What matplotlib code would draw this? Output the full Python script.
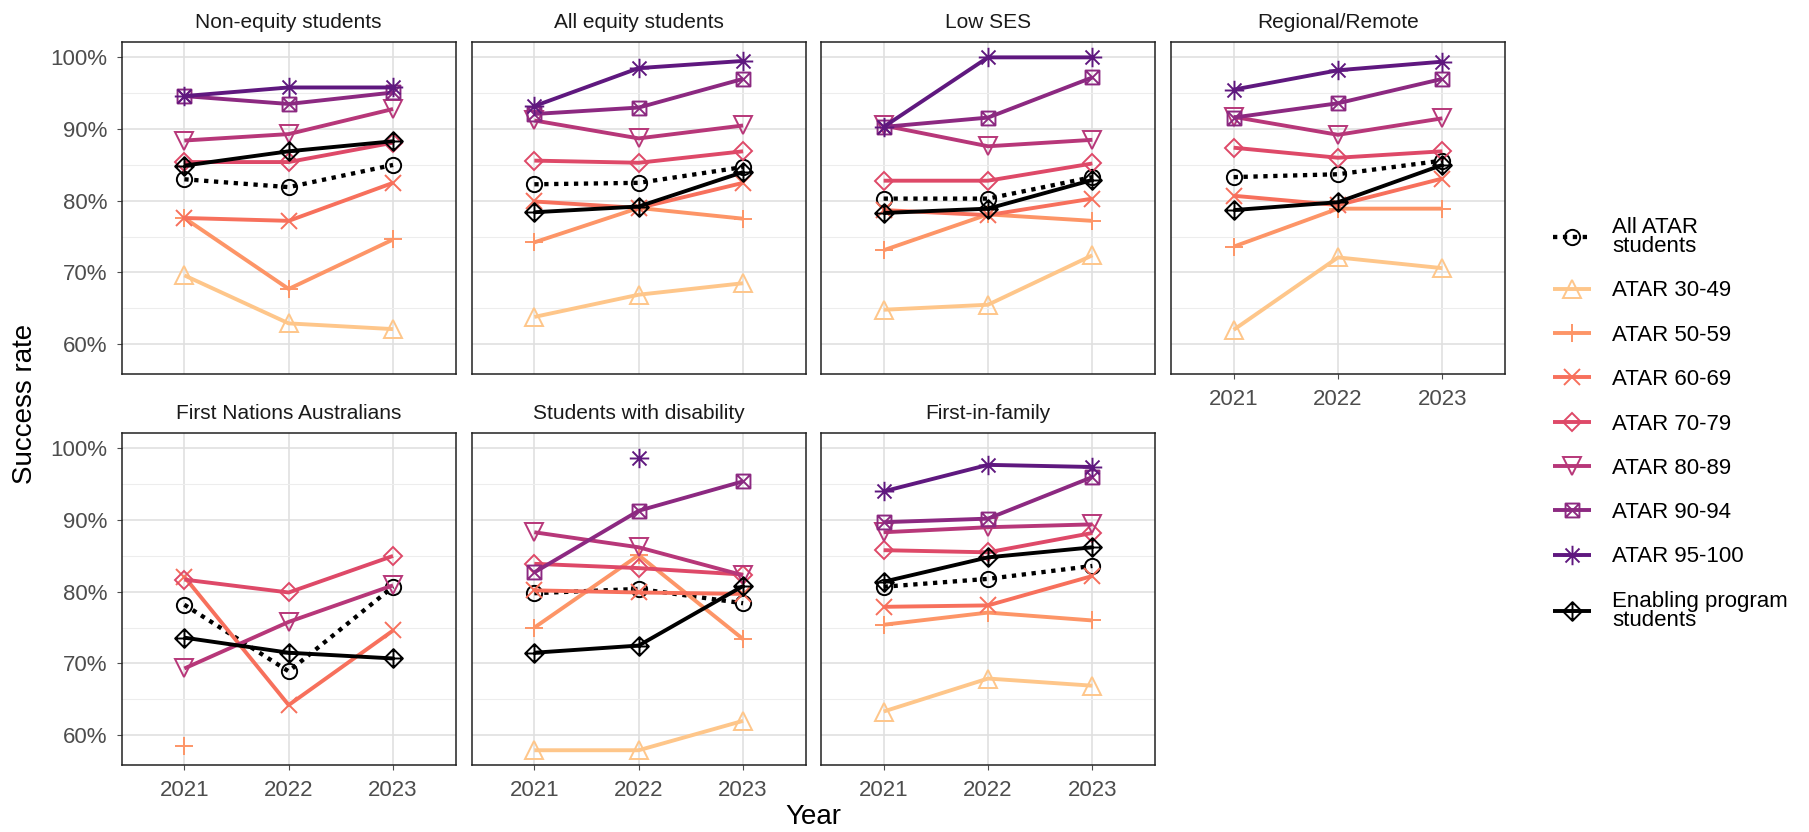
import matplotlib
matplotlib.use("Agg")
import matplotlib.pyplot as plt
from matplotlib.path import Path
from matplotlib.ticker import FuncFormatter, MultipleLocator, FixedLocator
import numpy as np

nan = np.nan

# ---------------- data ----------------
years = [2021, 2022, 2023]

series_names = ["All ATAR students", "ATAR 30-49", "ATAR 50-59", "ATAR 60-69",
                "ATAR 70-79", "ATAR 80-89", "ATAR 90-94", "ATAR 95-100",
                "Enabling program students"]

legend_labels = ["All ATAR\nstudents", "ATAR 30-49", "ATAR 50-59", "ATAR 60-69",
                 "ATAR 70-79", "ATAR 80-89", "ATAR 90-94", "ATAR 95-100",
                 "Enabling program\nstudents"]

panel_titles = ["Non-equity students", "All equity students", "Low SES",
                "Regional/Remote", "First Nations Australians",
                "Students with disability", "First-in-family"]

non_equity = {
    "All ATAR students": [83.0, 81.9, 85.0],
    "ATAR 30-49": [69.6, 62.9, 62.1],
    "ATAR 50-59": [77.6, 67.7, 74.6],
    "ATAR 60-69": [77.6, 77.2, 82.5],
    "ATAR 70-79": [85.4, 85.4, 88.1],
    "ATAR 80-89": [88.4, 89.3, 92.8],
    "ATAR 90-94": [94.6, 93.5, 95.1],
    "ATAR 95-100": [94.6, 95.8, 95.8],
    "Enabling program students": [84.9, 86.9, 88.3],
}
all_equity = {
    "All ATAR students": [82.3, 82.5, 84.7],
    "ATAR 30-49": [63.8, 66.9, 68.5],
    "ATAR 50-59": [74.2, 79.0, 77.5],
    "ATAR 60-69": [79.9, 79.0, 82.5],
    "ATAR 70-79": [85.6, 85.3, 86.9],
    "ATAR 80-89": [91.2, 88.7, 90.5],
    "ATAR 90-94": [92.1, 93.0, 97.0],
    "ATAR 95-100": [93.2, 98.5, 99.5],
    "Enabling program students": [78.4, 79.2, 84.0],
}
low_ses = {
    "All ATAR students": [80.3, 80.3, 83.3],
    "ATAR 30-49": [64.8, 65.5, 72.4],
    "ATAR 50-59": [73.1, 78.1, 77.2],
    "ATAR 60-69": [78.7, 78.0, 80.3],
    "ATAR 70-79": [82.8, 82.8, 85.2],
    "ATAR 80-89": [90.5, 87.6, 88.5],
    "ATAR 90-94": [90.3, 91.6, 97.2],
    "ATAR 95-100": [90.3, 100.0, 100.0],
    "Enabling program students": [78.3, 78.9, 82.9],
}
regional_remote = {
    "All ATAR students": [83.3, 83.7, 85.6],
    "ATAR 30-49": [62.0, 72.1, 70.6],
    "ATAR 50-59": [73.6, 78.9, 78.9],
    "ATAR 60-69": [80.7, 79.4, 83.1],
    "ATAR 70-79": [87.4, 86.0, 86.9],
    "ATAR 80-89": [91.7, 89.2, 91.5],
    "ATAR 90-94": [91.6, 93.6, 97.0],
    "ATAR 95-100": [95.5, 98.2, 99.4],
    "Enabling program students": [78.7, 79.8, 85.0],
}
first_nations = {
    "All ATAR students": [78.2, 68.9, 80.7],
    "ATAR 30-49": [nan, nan, nan],
    "ATAR 50-59": [58.5, nan, nan],
    "ATAR 60-69": [82.1, 64.2, 74.6],
    "ATAR 70-79": [81.7, 79.9, 85.0],
    "ATAR 80-89": [69.3, 75.8, 80.9],
    "ATAR 90-94": [nan, nan, nan],
    "ATAR 95-100": [nan, nan, nan],
    "Enabling program students": [73.6, 71.5, 70.7],
}
disability = {
    "All ATAR students": [79.8, 80.4, 78.4],
    "ATAR 30-49": [57.9, 57.9, 62.0],
    "ATAR 50-59": [75.0, 85.1, 73.4],
    "ATAR 60-69": [80.2, 79.9, 79.7],
    "ATAR 70-79": [83.9, 83.3, 82.4],
    "ATAR 80-89": [88.3, 86.2, 82.3],
    "ATAR 90-94": [82.7, 91.3, 95.4],
    "ATAR 95-100": [nan, 98.6, nan],
    "Enabling program students": [71.5, 72.5, 80.8],
}
first_in_family = {
    "All ATAR students": [80.7, 81.8, 83.6],
    "ATAR 30-49": [63.3, 67.9, 66.9],
    "ATAR 50-59": [75.4, 77.1, 76.0],
    "ATAR 60-69": [77.9, 78.1, 82.2],
    "ATAR 70-79": [85.8, 85.5, 88.2],
    "ATAR 80-89": [88.3, 89.0, 89.4],
    "ATAR 90-94": [89.7, 90.2, 96.0],
    "ATAR 95-100": [94.0, 97.7, 97.4],
    "Enabling program students": [81.4, 84.8, 86.2],
}
panel_data = [non_equity, all_equity, low_ses, regional_remote,
              first_nations, disability, first_in_family]

# ---------------- styles ----------------
M, L, C = Path.MOVETO, Path.LINETO, Path.CLOSEPOLY
square_x = Path([(-1, -1), (1, -1), (1, 1), (-1, 1), (-1, -1),
                 (-1, -1), (1, 1), (-1, 1), (1, -1)],
                [M, L, L, L, C, M, L, M, L])
diamond_plus = Path([(0, -1), (1, 0), (0, 1), (-1, 0), (0, -1),
                     (0, -1), (0, 1), (-1, 0), (1, 0)],
                    [M, L, L, L, C, M, L, M, L])
d = 0.72
asterisk = Path([(0, -1), (0, 1), (-1, 0), (1, 0),
                 (-d, -d), (d, d), (-d, d), (d, -d)],
                [M, L, M, L, M, L, M, L])

colors = ["#000000", "#FEC68A", "#FD9567", "#F7705C", "#DE4968",
          "#B73779", "#8C2981", "#5F187F", "#000000"]
markers = ["o", "^", "+", "x", "D", "v", square_x, asterisk, diamond_plus]
msizes = [11, 13, 13.5, 11, 9.5, 13, 10, 14, 13.5]
lstyles = [(0, (1.0, 1.3)), "-", "-", "-", "-", "-", "-", "-", "-"]

plt.rcParams["font.family"] = ["Liberation Sans", "DejaVu Sans"]

W, H = 1809, 832
fig = plt.figure(figsize=(W / 100, H / 100), dpi=100)

col_left = [121.7, 471.7, 821.0, 1171.0]
pw = 334.0
row_top = [42.3, 433.3]
ph = 332.0

axes = []
for i, (title, data) in enumerate(zip(panel_titles, panel_data)):
    r, c = divmod(i, 4)
    left = col_left[c] / W
    bottom = 1 - (row_top[r] + ph) / H
    ax = fig.add_axes([left, bottom, pw / W, ph / H])
    axes.append(ax)
    for k, name in enumerate(series_names):
        vals = data[name]
        ax.plot(years, vals, color=colors[k], lw=2.8 if k != 0 else 3.1,
                ls=lstyles[k], marker=markers[k], ms=msizes[k],
                mfc="none", mec=colors[k], mew=1.4, label=legend_labels[k],
                zorder=3 + k, solid_capstyle="butt")
    ax.set_xlim(2020.4, 2023.6)
    ax.set_ylim(55.8, 102.1)
    ax.xaxis.set_major_locator(FixedLocator(years))
    ax.yaxis.set_major_locator(MultipleLocator(10))
    ax.yaxis.set_minor_locator(MultipleLocator(5))
    ax.yaxis.set_major_formatter(FuncFormatter(lambda v, p: f"{v:.0f}%"))
    ax.xaxis.set_major_formatter(FuncFormatter(lambda v, p: f"{v:.0f}"))
    ax.grid(which="major", color="#E0E0E0", lw=1.2, zorder=0)
    ax.grid(which="minor", axis="y", color="#EDEDED", lw=0.8, zorder=0)
    ax.set_axisbelow(True)
    for sp in ax.spines.values():
        sp.set_color("#222222")
        sp.set_linewidth(1.1)
    show_y = (c == 0)
    show_x = (i >= 3)
    ax.tick_params(axis="y", which="major", labelleft=show_y,
                   length=3.5 if show_y else 0, color="#4D4D4D",
                   labelsize=16, labelcolor="#4D4D4D", pad=7)
    ax.tick_params(axis="y", which="minor", length=0)
    ax.tick_params(axis="x", which="major", labelbottom=show_x,
                   length=3.5 if show_x else 0, color="#4D4D4D",
                   labelsize=16, labelcolor="#4D4D4D", pad=7)
    ax.set_title(title, fontsize=15, color="#1A1A1A", pad=10.5)

fig.text(25 / W, 1 - 404 / H, "Success rate", rotation=90, ha="center",
         va="center", fontsize=20, color="#000000")
fig.text(813 / W, 0.002, "Year", ha="center", va="bottom", fontsize=20,
         color="#000000")

handles = axes[0].get_lines()
leg = fig.legend(handles, legend_labels, loc="center left",
                 bbox_to_anchor=(1553 / W, 1 - 424 / H), frameon=False,
                 fontsize=16, handlelength=1.7, handletextpad=0.95,
                 borderpad=0, borderaxespad=0, labelspacing=1.05)
for t in leg.get_texts():
    t.set_linespacing(0.9)

fig.savefig("out.png", dpi=100, facecolor="white")
